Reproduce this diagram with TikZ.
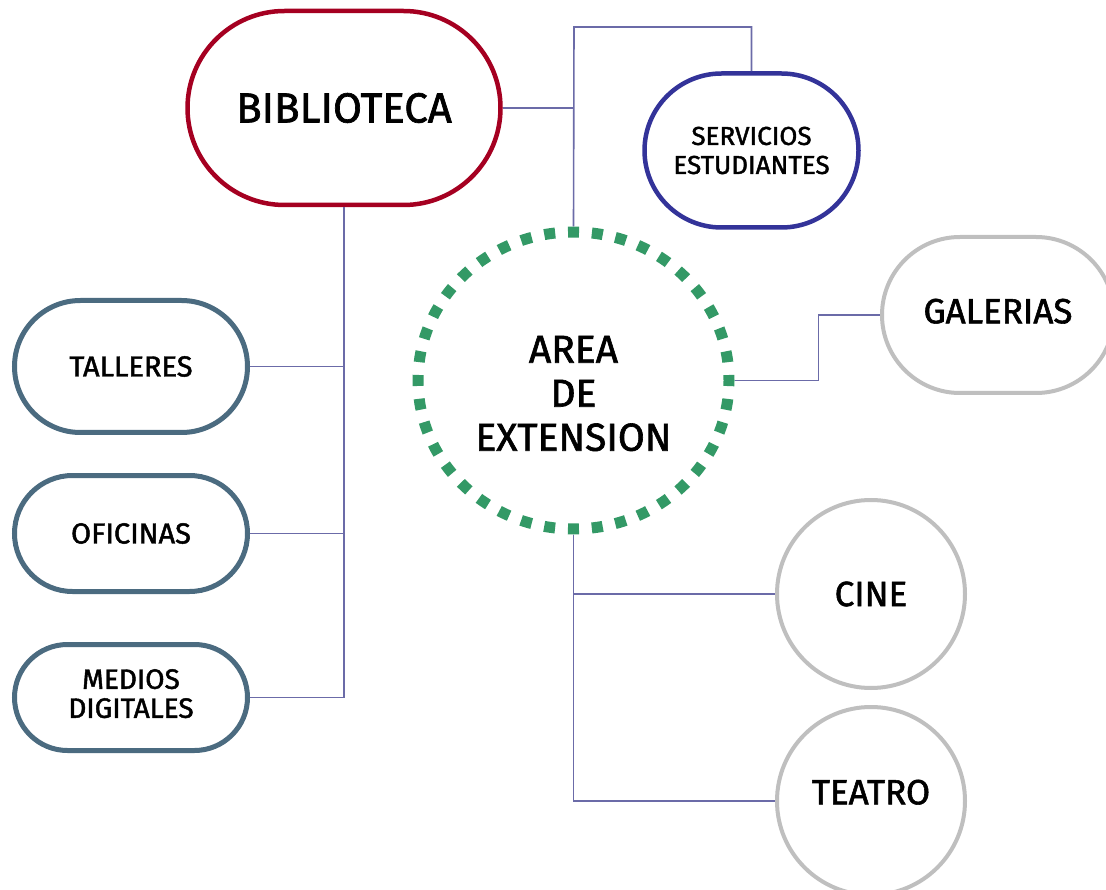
\documentclass[tikz,border=0pt]{standalone}
\usepackage{fontspec}
\setmainfont{Fira Sans}[FakeBold=1.6]
\usetikzlibrary{positioning,shapes.misc,shapes.geometric}
\definecolor{bibred}{HTML}{A50021}
\definecolor{servblue}{HTML}{333399}
\definecolor{areagreen}{HTML}{339966}
\definecolor{slate}{HTML}{4B6B80}
\definecolor{lightgray}{HTML}{BFBFBF}
\definecolor{linkcol}{HTML}{6B6BA8}
\tikzset{
  pill/.style={rounded rectangle, draw, fill=white, align=center, inner sep=0pt},
  ring/.style={circle, draw=lightgray, line width=4pt, fill=white, align=center, minimum size=188pt, inner sep=0pt},
  link/.style={draw=linkcol, line width=1.6pt},
}
\newcommand{\fsz}[2]{\fontsize{#1}{#2}\selectfont}

\begin{document}
\begin{tikzpicture}[x=1pt,y=-1pt,node distance=38pt]
\useasboundingbox (0,0) rectangle (1106,890);
\clip (0,0) rectangle (1106,890);
\node[pill, draw=bibred, line width=4.5pt, minimum width=313pt, minimum height=194pt, font=\fsz{42}{46}] (bib) at (344,108) {BIBLIOTECA};
\node[pill, draw=servblue, line width=4.5pt, minimum width=214pt, minimum height=154pt, font=\fsz{26}{29}] (serv) at (751.5,150.5) {SERVICIOS\\ESTUDIANTES};
\node[ellipse, draw=areagreen, line width=11pt, dash pattern=on 11pt off 12.88pt, dash phase=5.5pt, minimum width=311pt, minimum height=297pt, inner sep=0pt] (area) at (573.5,380.5) {};
\node[align=center, font=\fsz{39}{44}] (areatxt) at ([yshift=-13pt]area.center) {AREA\\DE\\EXTENSION};
\node[pill, draw=lightgray, line width=4pt, minimum width=232pt, minimum height=156pt, font=\fsz{35}{40}, text depth=8pt] (gal) at (998,315) {GALERIAS};
\node[pill, draw=slate, line width=5pt, minimum width=233pt, minimum height=132pt, font=\fsz{29}{32}] (tal) at (131,366.5) {TALLERES};
\node[pill, draw=slate, line width=5pt, minimum width=233pt, minimum height=116pt, font=\fsz{29}{32}, below=of tal] (ofi) {OFICINAS};
\node[pill, draw=slate, line width=5pt, minimum width=233pt, minimum height=106pt, font=\fsz{28}{29}, text depth=8pt, below=48pt of ofi] (med) {MEDIOS\\DIGITALES};
\node[ring, font=\fsz{35}{40}] (cine) at (871,594) {CINE};
\node[ring, font=\fsz{35}{40}, text depth=18pt, below=15pt of cine] (teatro) {TEATRO};
% conectores
\coordinate (top) at (574,27);
\draw[link] (bib.east) -| (area.north);
\draw[link] (area.north) -- (top) -| (serv.north);
\draw[link] (area.east) -- ++(84,0) |- (gal.west);
\draw[link] (bib.south) |- (tal.east);
\draw[link] (bib.south) |- (ofi.east);
\draw[link] (bib.south) |- (med.east);
\draw[link] (area.south) |- (cine.west);
\draw[link] (area.south) |- (teatro.west);
\end{tikzpicture}
\end{document}
